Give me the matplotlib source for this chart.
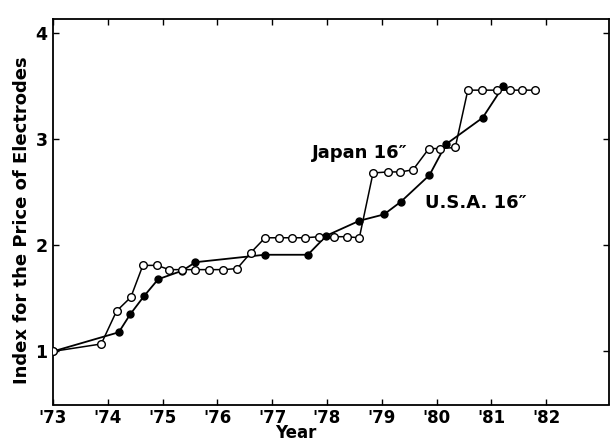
import matplotlib
matplotlib.use("Agg")
import matplotlib.pyplot as plt

# Japan 16" (open circles)
japan_year = [1973.00, 1973.88, 1974.16, 1974.42, 1974.64, 1974.90, 1975.12, 1975.36,
              1975.60, 1975.85, 1976.11, 1976.36, 1976.61, 1976.87, 1977.12, 1977.37,
              1977.60, 1977.86, 1978.12, 1978.36, 1978.59, 1978.84, 1979.11, 1979.34,
              1979.57, 1979.86, 1980.07, 1980.34, 1980.57, 1980.83, 1981.10, 1981.34,
              1981.56, 1981.80]
japan_index = [1.00, 1.07, 1.38, 1.51, 1.81, 1.81, 1.77, 1.77,
               1.77, 1.77, 1.77, 1.78, 1.93, 2.07, 2.07, 2.07,
               2.07, 2.08, 2.08, 2.08, 2.07, 2.68, 2.69, 2.69,
               2.71, 2.91, 2.91, 2.92, 3.46, 3.46, 3.46, 3.46,
               3.46, 3.46]

# U.S.A. 16" (filled circles)
usa_year = [1973.00, 1974.20, 1974.41, 1974.66, 1974.92, 1975.36, 1975.60, 1976.86,
            1977.65, 1977.99, 1978.59, 1979.04, 1979.35, 1979.87, 1980.17, 1980.84,
            1981.22]
usa_index = [1.00, 1.18, 1.35, 1.52, 1.68, 1.76, 1.84, 1.91,
             1.91, 2.09, 2.23, 2.29, 2.41, 2.66, 2.95, 3.20,
             3.50]

x_ticks = [1973, 1974, 1975, 1976, 1977, 1978, 1979, 1980, 1981, 1982]
x_labels = ["'73", "'74", "'75", "'76", "'77", "'78", "'79", "'80", "'81", "'82"]
y_ticks = [1, 2, 3, 4]
y_labels = ["1", "2", "3", "4"]

plt.rcParams['font.family'] = ['DejaVu Sans']

BOTTOM = 404.5
fig = plt.figure(figsize=(6.11, 4.42), dpi=100)
ax = fig.add_axes([53/611, 1 - BOTTOM/442, (609 - 53)/611, (BOTTOM - 19)/442])

ax.plot(usa_year, usa_index, color='black', lw=1.3, marker='o', ms=5,
        mfc='black', mec='black', zorder=3)
ax.plot(japan_year, japan_index, color='black', lw=1.1, marker='o', ms=5.5,
        mfc='white', mec='black', mew=1.0, zorder=4)

ax.set_xlim(1973, 1973 + (609 - 53) / 54.8)
ax.set_ylim(0.5, 4.13)

ax.set_xticks(x_ticks)
ax.set_xticklabels(x_labels, fontsize=12, fontweight='bold')
ax.set_yticks(y_ticks)
ax.set_yticklabels(y_labels, fontsize=12.5, fontweight='bold')
ax.tick_params(axis='x', direction='in', length=4, width=1, top=True, pad=3)
ax.tick_params(axis='y', direction='in', length=4, width=1, right=True, pad=4)

for s in ax.spines.values():
    s.set_linewidth(1.3)

ax.set_xlabel("Year", fontsize=12, fontweight='bold')
ax.xaxis.set_label_coords((296 - 53) / 556, (BOTTOM - 442) / (BOTTOM - 19))
ax.xaxis.label.set_va('bottom')

ax.set_ylabel("Index for the Price of Electrodes", fontsize=13, fontweight='bold')
ax.yaxis.set_label_coords((22 - 53) / 556, (BOTTOM - 220) / (BOTTOM - 19))
ax.yaxis.label.set_va('center')

ax.text(1977.73, 2.87, "Japan 16\u2033", fontsize=13, fontweight='bold', va='center', ha='left')
ax.text(1979.79, 2.40, "U.S.A. 16\u2033", fontsize=13, fontweight='bold', va='center', ha='left')

fig.savefig("out.png", dpi=100)
